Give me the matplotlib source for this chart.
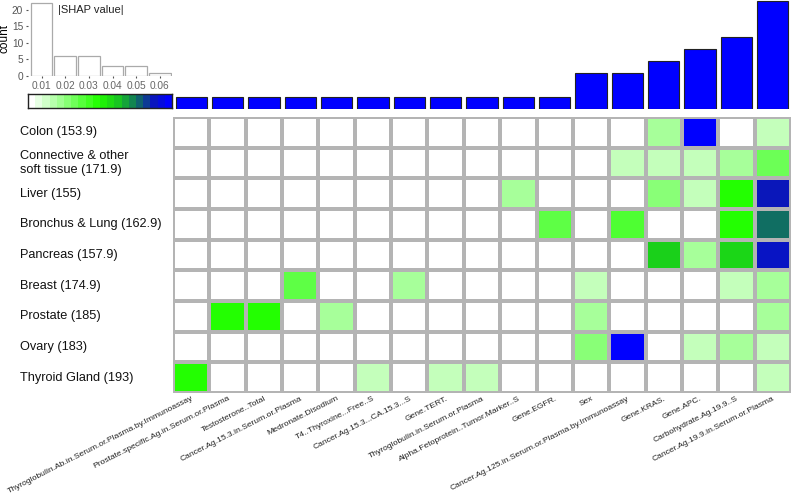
import matplotlib
matplotlib.use("Agg")
import matplotlib.pyplot as plt
import numpy as np
from matplotlib.colors import LinearSegmentedColormap
from matplotlib.transforms import blended_transform_factory

plt.rcParams["font.family"] = ["Liberation Sans", "DejaVu Sans"]

# ---------------------------------------------------------------------------
# Data
# ---------------------------------------------------------------------------
features = [
    "Thyroglobulin.Ab.in.Serum.or.Plasma.by.Immunoassay",
    "Prostate.specific.Ag.in.Serum.or.Plasma",
    "Testosterone..Total",
    "Cancer.Ag.15.3.in.Serum.or.Plasma",
    "Medronate.Disodium",
    "T4..Thyroxine...Free..S",
    "Cancer.Ag.15.3...CA.15.3...S",
    "Gene.TERT.",
    "Thyroglobulin.in.Serum.or.Plasma",
    "Alpha.Fetoprotein..Tumor.Marker..S",
    "Gene.EGFR.",
    "Sex",
    "Cancer.Ag.125.in.Serum.or.Plasma.by.Immunoassay",
    "Gene.KRAS.",
    "Gene.APC.",
    "Carbohydrate.Ag.19.9..S",
    "Cancer.Ag.19.9.in.Serum.or.Plasma",
]

cancers = [
    "Colon (153.9)",
    "Connective & other\nsoft tissue (171.9)",
    "Liver (155)",
    "Bronchus & Lung (162.9)",
    "Pancreas (157.9)",
    "Breast (174.9)",
    "Prostate (185)",
    "Ovary (183)",
    "Thyroid Gland (193)",
]

# mean |SHAP| per feature (top bar panel)
feature_importance = [0.01, 0.01, 0.01, 0.01, 0.01, 0.01, 0.01, 0.01, 0.01, 0.01, 0.01,
                      0.03, 0.03, 0.04, 0.05, 0.06, 0.09]

# |SHAP| per cancer (rows) x feature (columns)
shap_colon      = [0, 0, 0, 0, 0, 0, 0, 0, 0, 0, 0, 0, 0, 0.012, 0.062, 0, 0.008]
shap_connective = [0, 0, 0, 0, 0, 0, 0, 0, 0, 0, 0, 0, 0.008, 0.008, 0.008, 0.012, 0.020]
shap_liver      = [0, 0, 0, 0, 0, 0, 0, 0, 0, 0.012, 0, 0, 0, 0.016, 0.008, 0.030, 0.055]
shap_bronchus   = [0, 0, 0, 0, 0, 0, 0, 0, 0, 0, 0.022, 0, 0.024, 0, 0, 0.030, 0.048]
shap_pancreas   = [0, 0, 0, 0, 0, 0, 0, 0, 0, 0, 0, 0, 0, 0.038, 0.012, 0.037, 0.056]
shap_breast     = [0, 0, 0, 0.022, 0, 0, 0.012, 0, 0, 0, 0, 0.008, 0, 0, 0, 0.008, 0.012]
shap_prostate   = [0, 0.030, 0.030, 0, 0.012, 0, 0, 0, 0, 0, 0, 0.012, 0, 0, 0, 0, 0.012]
shap_ovary      = [0, 0, 0, 0, 0, 0, 0, 0, 0, 0, 0, 0.016, 0.062, 0, 0.008, 0.012, 0.008]
shap_thyroid    = [0.030, 0, 0, 0, 0, 0.008, 0, 0.008, 0.008, 0, 0, 0, 0, 0, 0, 0, 0.008]

# histogram of non-zero |SHAP| values
hist_bins = [0.01, 0.02, 0.03, 0.04, 0.05, 0.06]
hist_counts = [22, 6, 6, 3, 3, 1]

# ---------------------------------------------------------------------------
# Figure
# ---------------------------------------------------------------------------
W, H = 800, 495
fig = plt.figure(figsize=(W / 100, H / 100), dpi=100)


def px_axes(x0, y0, x1, y1):
    """Add axes from pixel box (top-left origin)."""
    return fig.add_axes([x0 / W, (H - y1) / H, (x1 - x0) / W, (y1 - y0) / H])


vmax = 0.062
cmap = LinearSegmentedColormap.from_list(
    "shap",
    [(0.0, "#ffffff"), (0.484, "#22ff00"), (0.613, "#1ad01a"),
     (0.774, "#107060"), (0.887, "#0a18b8"), (1.0, "#0000ff")],
)

# ── heatmap ──
shap = np.array([shap_colon, shap_connective, shap_liver, shap_bronchus, shap_pancreas,
                 shap_breast, shap_prostate, shap_ovary, shap_thyroid])
n_rows, n_cols = shap.shape
ax = px_axes(173, 117, 791, 393)
ax.pcolormesh(shap, cmap=cmap, vmin=0, vmax=vmax, edgecolors="#b4b4b4", linewidth=1.6)
ax.set_xlim(0, n_cols)
ax.set_ylim(n_rows, 0)
for s in ax.spines.values():
    s.set_visible(False)
ax.set_yticks([])
ax.set_xticks(np.arange(n_cols) + 0.5)
ax.set_xticklabels(features, rotation=27, ha="right", va="top",
                   rotation_mode="anchor", fontsize=6.1, color="#222222")
ax.tick_params(axis="x", length=0, pad=1.5)

trans = blended_transform_factory(fig.transFigure, ax.transData)
for i, name in enumerate(cancers):
    ax.text(20 / W, i + 0.5, name, transform=trans, ha="left", va="center",
            fontsize=9.2, linespacing=1.25, color="#111111")

# ── top bar panel ──
axb = px_axes(173, 0, 791, 109)
axb.bar(np.arange(n_cols) + 0.5, feature_importance, width=0.86,
        color="#0000ff", edgecolor="#222222", linewidth=0.8)
axb.set_xlim(0, n_cols)
axb.set_ylim(0, 0.0905)
axb.axis("off")

# ── histogram inset ──
axh = px_axes(28, 1, 172, 76)
axh.bar(hist_bins, hist_counts, width=0.0092, color="white",
        edgecolor="#aaaaaa", linewidth=0.9)
axh.set_xlim(0.0043, 0.0651)
axh.set_ylim(0, 22.6)
for s in axh.spines.values():
    s.set_visible(False)
axh.set_xticks(hist_bins)
axh.set_xticklabels([f"{b:.2f}" for b in hist_bins])
axh.set_yticks([0, 5, 10, 15, 20])
axh.tick_params(labelsize=7.3, colors="#555555", length=1.5, pad=2)
axh.tick_params(axis="x", labelcolor="#666666")
axh.set_ylabel("count", fontsize=8.5, labelpad=1)
axh.text(0.21, 0.88, "|SHAP value|", transform=axh.transAxes, fontsize=8,
         color="#222222", va="center")

# ── colour bar ──
axc = px_axes(28, 94, 172, 108)
steps = np.linspace(0, vmax, 20).reshape(1, -1)
axc.imshow(steps, cmap=cmap, vmin=0, vmax=vmax, aspect="auto", interpolation="nearest")
axc.set_xticks([])
axc.set_yticks([])
for s in axc.spines.values():
    s.set_color("#222222")
    s.set_linewidth(1.0)

fig.savefig("out.png", dpi=100)
